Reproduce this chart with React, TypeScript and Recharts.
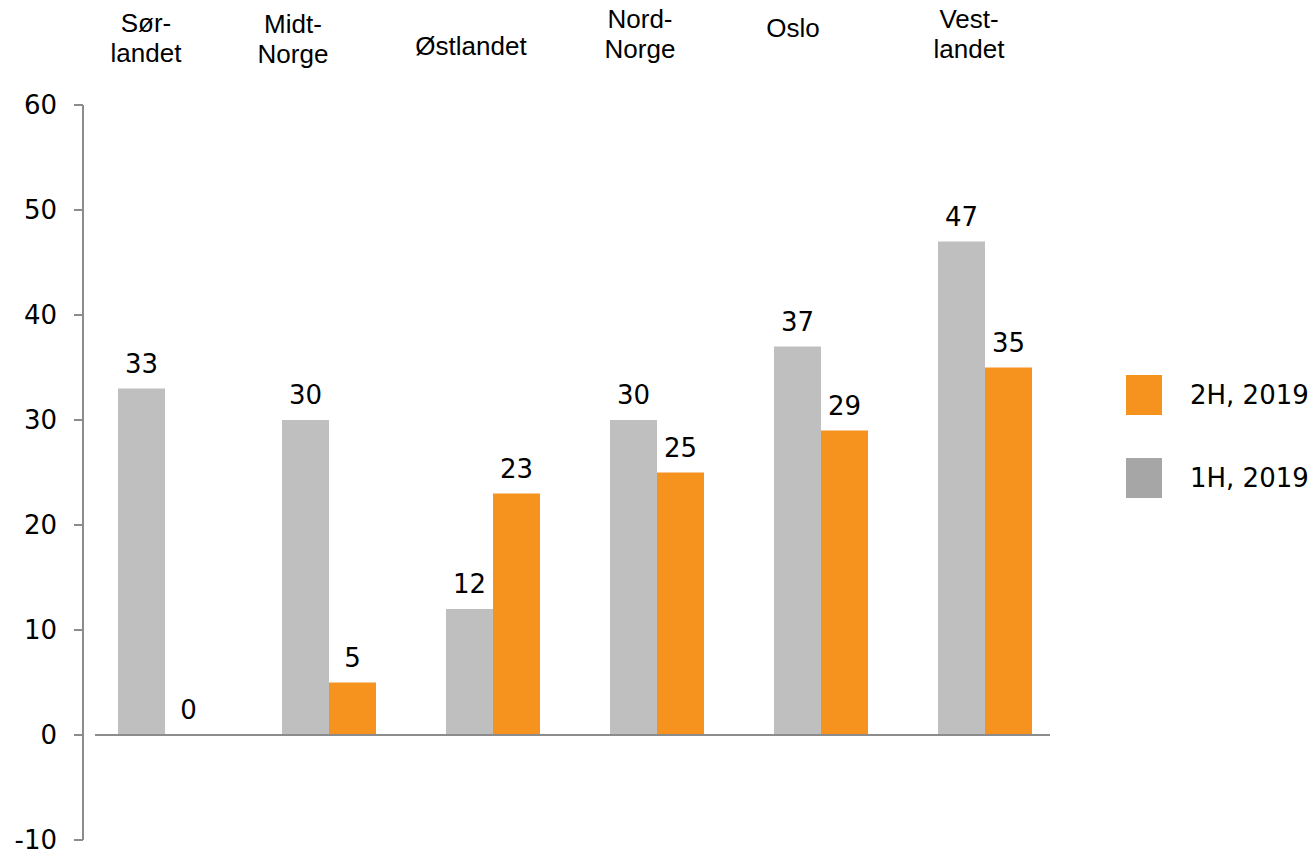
import React from 'react';
import { BarChart, Bar, XAxis, YAxis, ReferenceLine, LabelList } from 'recharts';

// ── Regional bar chart: 1H vs 2H 2019

const CATEGORIES = ['Sør-\nlandet', 'Midt-\nNorge', 'Østlandet', 'Nord-\nNorge', 'Oslo', 'Vest-\nlandet'];
const H1_2019 = [33, 30, 12, 30, 37, 47];
const H2_2019 = [0, 5, 23, 25, 29, 35];
const Y_TICKS = [-10, 0, 10, 20, 30, 40, 50, 60];

const GRAY = '#bfbfbf';
const GRAY_LEGEND = '#a6a6a6';
const ORANGE = '#f6921e';
const AXIS = '#8c8c8c';
const VALUE_FONT = '"DejaVu Sans", Verdana, sans-serif';
const CAT_FONT = '"Liberation Sans", Arial, sans-serif';

// label placement above the plot (category labels sit a bit left of the bar pair)
const LABEL_DX = [-19, -36, -22, -17, -28, -16];
const LABEL_BASE = [32, 33, 55, 28, 37, 28];

const data = CATEGORIES.map((name, i) => ({ name, h1: H1_2019[i], h2: H2_2019[i] }));

const CategoryTick = (props: any) => {
  const { x, payload, index } = props;
  const lines = String(payload.value).split('\n');
  return (
    <text x={x + LABEL_DX[index]} textAnchor="middle" fontFamily={CAT_FONT} fontSize={26} fill="#000">
      {lines.map((l, k) => (
        <tspan key={k} x={x + LABEL_DX[index]} y={LABEL_BASE[index] + k * 30}>{l}</tspan>
      ))}
    </text>
  );
};

const ZeroLine = (props: any) => {
  const { x1, x2, y1 } = props;
  return <line x1={x1 + 12} x2={x2 - 17} y1={y1} y2={y1} stroke={AXIS} strokeWidth={2} />;
};

// value label drawn above each bar, also for zero-height bars
const ValueLabel = (props: any) => {
  const { x, y, width, value } = props;
  return (
    <text x={x + width / 2} y={y - 16} textAnchor="middle" fontFamily={VALUE_FONT} fontSize={26} fill="#000">
      {value}
    </text>
  );
};

const Legend = () => (
  <div style={{ position: 'absolute', left: 1126, top: 375, fontFamily: VALUE_FONT, fontSize: 26, color: '#000' }}>
    {[{ label: '2H, 2019', color: ORANGE }, { label: '1H, 2019', color: GRAY_LEGEND }].map((it, i) => (
      <div key={it.label} style={{ position: 'absolute', top: i * 83, left: 0, display: 'flex', alignItems: 'center', whiteSpace: 'nowrap' }}>
        <div style={{ width: 36, height: 40, background: it.color, marginRight: 28 }} />
        <span>{it.label}</span>
      </div>
    ))}
  </div>
);

export default function App() {
  return (
    <div style={{ position: 'absolute', left: 0, top: 0, width: 1316, height: 852, background: '#fff' }}>
      <BarChart
        width={1316}
        height={852}
        data={data}
        margin={{ top: 5, right: 249, bottom: 12, left: 0 }}
        barGap={0}
        barCategoryGap={35}
      >
        <XAxis
          dataKey="name"
          orientation="top"
          height={100}
          axisLine={false}
          tickLine={false}
          interval={0}
          tick={<CategoryTick />}
        />
        <YAxis
          domain={[-10, 60]}
          ticks={Y_TICKS}
          width={83}
          interval={0}
          axisLine={{ stroke: AXIS, strokeWidth: 2 }}
          tickLine={{ stroke: AXIS, strokeWidth: 2 }}
          tickSize={9}
          tickMargin={17}
          tick={{ fontFamily: VALUE_FONT, fontSize: 26, fill: '#000' }}
        />
        <Bar dataKey="h1" fill={GRAY} isAnimationActive={false} minPointSize={0.01}>
          <LabelList dataKey="h1" content={<ValueLabel />} />
        </Bar>
        <Bar dataKey="h2" fill={ORANGE} isAnimationActive={false} minPointSize={0.01}>
          <LabelList dataKey="h2" content={<ValueLabel />} />
        </Bar>
        <ReferenceLine y={0} shape={<ZeroLine />} />
      </BarChart>
      <Legend />
    </div>
  );
}
